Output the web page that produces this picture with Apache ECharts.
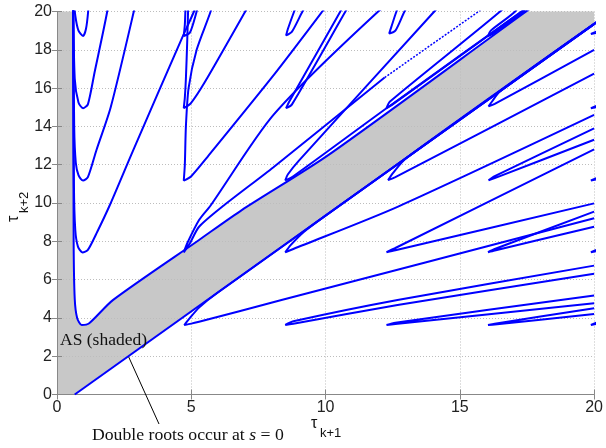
<!DOCTYPE html>
<html>
<head>
<meta charset="utf-8">
<script src="https://cdn.jsdelivr.net/npm/echarts@6/dist/echarts.min.js"></script>
<style>
  html, body { margin: 0; padding: 0; background: #fff; }
  #chart { width: 606px; height: 448px; }
</style>
</head>
<body>
<div id="chart"></div>
<script>
  // shaded AS region (tau_{k+1}, tau_{k+2})
  var shadedAS = [[0,0],[0,20],[0.6,20],[0.62,8],[0.66,5],[0.75,4.0],[0.92,3.63],[1.2,3.72],[2.08,4.93],
    [5.29,8.07],[6.88,9.63],[10.1,12.5],[17.47,20],[20,20],[20,19.34],[0.66,0]];

  // line of double roots at s = 0
  var doubleRootLine = [[0.66,0],[20,19.34]];
  var rootMark = [2.67,1.96];

  // hairpin curves, grouped by column of their tips
  var col0 = [
    [[0.6,21],[0.62,8],[0.66,5],[0.75,4.0],[0.92,3.63],[1.2,3.72],[2.08,4.93],[5.29,8.07],[6.88,9.63],[10.1,12.5],[17.47,20],[18.5,21]],
    [[0.6,21],[0.63,11],[0.68,8.6],[0.78,7.72],[0.95,7.42],[1.15,7.55],[1.5,8.5],[1.96,9.87],[2.82,12.7],[4.67,18.66],[5.1,20],[5.35,21]],
    [[0.6,21],[0.64,14],[0.7,12.1],[0.8,11.45],[0.97,11.17],[1.15,11.35],[1.47,12.77],[2.0,15.0],[2.86,20],[3.0,21]],
    [[0.6,21],[0.66,16.5],[0.8,15.25],[0.97,14.95],[1.15,15.15],[1.4,16.83],[1.87,20],[1.95,21]],
    [[0.6,21],[0.68,19.8],[0.8,19.0],[0.97,18.72],[1.08,19.1],[1.16,20],[1.2,21]]
  ];
  var col1 = [
    [[21,20.34],[6,5.34],[5.3,4.55],[4.92,3.95],[4.74,3.63],[5.0,3.7],[5.29,3.8],[8.36,4.93],[20,9.2]],
    [[13,21],[11.96,20],[8.06,14.6],[5.72,9.87],[5.29,9.11],[4.85,7.9],[4.72,7.42],[4.95,7.9],[5.29,8.76],[6.21,9.87],[8.06,11.87],[12.2,16.55]],
    [[5.9,21],[5.72,20],[5.2,18],[4.9,16],[4.8,14],[4.76,12],[4.72,11.17],[5.0,11.4],[5.6,12.4],[8.06,16.66],[9.88,20],[10.4,21]],
    [[4.9,21],[4.85,18.5],[4.8,16.5],[4.76,15.5],[4.72,14.95],[4.98,15.2],[5.5,16.3],[7.01,20],[7.4,21]],
    [[4.8,21],[4.78,20],[4.76,19.3],[4.72,18.72],[4.95,18.9],[5.2,20],[5.4,21]]
  ];
  // faint dotted continuation of the T(1,1) branch
  var thinTrail = [[12.2,16.55],[15.7,20],[16.6,21]];
  var col2 = [
    [[20,6.73],[12.68,4.93],[8.8,3.82],[8.5,3.63],[8.8,3.7],[12.68,4.67],[20,6.3]],
    [[21,20.34],[10,9.34],[9.2,8.5],[8.7,7.8],[8.5,7.43],[8.8,7.6],[12.68,9.8],[20,14.6]],
    [[14.7,21],[14.05,20],[9.0,12.2],[8.6,11.5],[8.5,11.18],[8.8,11.4],[12.27,14.95],[18.3,21]],
    [[10.9,21],[10.55,20],[8.65,15.3],[8.53,14.95],[8.75,15.15],[10.74,20],[11.15,21]],
    [[9.0,20.6],[8.83,20],[8.6,19.1],[8.53,18.75],[8.75,18.95],[9.14,20],[9.4,20.6]]
  ];
  var col3 = [
    [[20,5.17],[12.6,3.75],[12.27,3.63],[12.6,3.68],[20,4.76]],
    [[20,12.8],[12.6,7.65],[12.27,7.43],[12.6,7.53],[20,9.98]],
    [[21,20.34],[13,12.34],[12.5,11.55],[12.33,11.2],[12.6,11.35],[20,16.75]],
    [[17.2,21],[16.5,20],[12.4,15.3],[12.27,14.95],[12.5,15.15],[18,20.7]],
    [[12.8,20.5],[12.64,20],[12.45,19.2],[12.37,18.85],[12.6,19.0],[12.94,20],[13.2,20.6]]
  ];
  var col4 = [
    [[20,4.5],[16.3,3.7],[16.05,3.63],[16.3,3.65],[20,4.2]],
    [[20,9.55],[16.3,7.6],[16.05,7.43],[16.3,7.52],[20,8.76]],
    [[20,13.9],[16.3,11.4],[16.07,11.18],[16.3,11.3],[20,13.3]],
    [[21,20.34],[16.5,15.84],[16.2,15.3],[16.07,15.05],[16.3,15.18],[20,18.0]],
    [[17.3,20.6],[17.06,20],[16.15,19.0],[16.05,18.72],[16.3,18.9],[17.4,20],[18,20.6]]
  ];
  var col5 = [
    [[20.5,4.0],[19.88,3.63],[20.5,3.8]],
    [[20.5,7.8],[19.88,7.43],[20.5,7.6]],
    [[20.5,11.55],[19.88,11.18],[20.5,11.35]],
    [[20.5,15.3],[19.88,14.95],[20.5,15.1]],
    [[20.5,19.2],[19.88,18.83],[20.5,19.0]]
  ];

  var blue = '#0000ff';
  var gridLine = { show: true, lineStyle: { color: '#bdbdbd', type: [1, 2], width: 1 } };
  var boxLine = { show: true, lineStyle: { color: '#888', width: 1 } };
  var tick = { show: true, inside: true, length: 5, lineStyle: { color: '#888' } };

  var series = [{
    type: 'custom',
    z: -1,
    silent: true,
    data: [0],
    renderItem: function (params, api) {
      var pts = shadedAS.map(function (p) { return api.coord(p); });
      return { type: 'polygon', shape: { points: pts }, style: { fill: '#c8c8c8', stroke: null } };
    }
  }, {
    type: 'line',
    data: doubleRootLine,
    showSymbol: false,
    clip: true,
    silent: true,
    lineStyle: { color: blue, width: 2 },
    z: 3
  }, {
    type: 'line',
    data: thinTrail,
    showSymbol: false,
    clip: true,
    silent: true,
    lineStyle: { color: blue, width: 1.5, type: [2, 1.5] },
    z: 3
  }];

  [col0, col1, col2, col3, col4, col5].forEach(function (col) {
    col.forEach(function (pts) {
      series.push({
        type: 'line',
        data: pts,
        showSymbol: false,
        smooth: 0.25,
        clip: true,
        silent: true,
        lineStyle: { color: blue, width: 2 },
        z: 3
      });
    });
  });

  var option = {
    animation: false,
    backgroundColor: '#fff',
    grid: { left: 57, right: 8, top: 11.5, bottom: 53.5 },
    xAxis: [{
      type: 'value', min: 0, max: 20, interval: 5,
      axisLine: boxLine, axisTick: tick,
      axisLabel: { color: '#222', fontSize: 16, fontFamily: 'Liberation Sans', margin: 5 },
      splitLine: gridLine
    }, {
      type: 'value', position: 'top', min: 0, max: 20, interval: 5,
      axisLine: boxLine, axisTick: tick, axisLabel: { show: false }, splitLine: { show: false }
    }],
    yAxis: [{
      type: 'value', min: 0, max: 20, interval: 2,
      axisLine: boxLine, axisTick: tick,
      axisLabel: { color: '#222', fontSize: 16, fontFamily: 'Liberation Sans', margin: 5 },
      splitLine: gridLine
    }, {
      type: 'value', position: 'right', min: 0, max: 20, interval: 2,
      axisLine: boxLine, axisTick: tick, axisLabel: { show: false }, splitLine: { show: false }
    }],
    series: series
  };

  var chart = echarts.init(document.getElementById('chart'));
  chart.setOption(option);

  var markPx = chart.convertToPixel({ gridIndex: 0 }, rootMark);

  chart.setOption({
    graphic: [{
      type: 'line',
      shape: { x1: markPx[0], y1: markPx[1], x2: 159, y2: 424 },
      style: { stroke: '#000', lineWidth: 1 },
      z: 10
    }, {
      type: 'text', left: 60, top: 331, z: 10,
      style: { text: 'AS (shaded)', font: '17.5px "Liberation Serif"', fill: '#111' }
    }, {
      type: 'text', left: 92, top: 426, z: 10,
      style: {
        text: '{a|Double roots occur at }{i|s}{a| = 0}',
        rich: {
          a: { font: '17.7px "Liberation Serif"', fill: '#111' },
          i: { font: 'italic 17.7px "Liberation Serif"', fill: '#111' }
        }
      }
    }, {
      type: 'text', left: 311, top: 416, z: 10,
      style: { text: 'τ', font: '16px "Liberation Sans"', fill: '#111' }
    }, {
      type: 'text', left: 320, top: 427, z: 10,
      style: { text: 'k+1', font: '13px "Liberation Sans"', fill: '#111' }
    }, {
      type: 'group', x: 6, y: 222, rotation: Math.PI / 2, z: 10,
      children: [{
        type: 'text', x: 0, y: 0,
        style: { text: 'τ', font: '16px "Liberation Sans"', fill: '#111' }
      }, {
        type: 'text', x: 9, y: 12,
        style: { text: 'k+2', font: '13px "Liberation Sans"', fill: '#111' }
      }]
    }]
  });
</script>
</body>
</html>
